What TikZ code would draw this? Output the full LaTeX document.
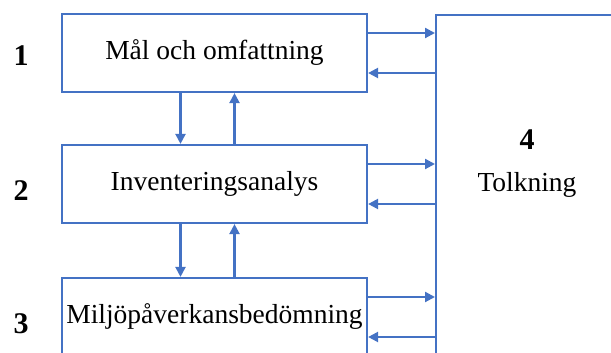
\documentclass[tikz,border=0pt]{standalone}
\usepackage{fontspec}
\setmainfont{Liberation Serif}
\usetikzlibrary{arrows.meta, positioning}
\definecolor{lcablue}{HTML}{4472C4}

\begin{document}
\begin{tikzpicture}[x=1pt, y=1pt,
      phase/.style={rectangle, draw=lcablue, line width=2.2pt, fill=white, minimum width=305pt, minimum height=78pt, inner sep=0pt, font=\fontsize{27.5}{30}\selectfont},
      num/.style={font=\fontsize{30}{32}\selectfont\bfseries},
      arrow/.style={-{Triangle[length=10pt, width=10pt]}, line width=2.2pt, lcablue},
    ]
    \useasboundingbox (0,0) rectangle (611,353);
    \clip (0,0) rectangle (611,353);

    \node[phase] (mal) at (214.5,300) {Mål och omfattning};
    \node[phase] (inv) at (214.5,169) {Inventeringsanalys};
    \node[phase] (milj) at (214.5,36) {Miljöpåverkansbedömning};
    \node[rectangle, draw=lcablue, line width=2.2pt, minimum width=220pt, minimum height=380pt, anchor=north west] (tolk) at (435,339) {};

    \node[num] (n1) at (21,297) {1};
    \node[num] (n2) at (21,162) {2};
    \node[num] (n3) at (21,29) {3};
    \node[num] (n4) at (527,213) {4};
    \node[font=\fontsize{27.5}{30}\selectfont] (tolktext) at (527,168) {Tolkning};

    % phases to interpretation and back
    \foreach \p in {mal, inv, milj} {
      \draw[arrow] ([yshift=20pt]\p.east) -- ([yshift=20pt]\p.east -| tolk.west);
      \draw[arrow] ([yshift=-20pt]\p.east -| tolk.west) -- ([yshift=-20pt]\p.east);
    }

    % between the phases
    \draw[arrow] ([xshift=-34pt]mal.south) -- ([xshift=-34pt]inv.north);
    \draw[arrow] ([xshift=20pt]inv.north) -- ([xshift=20pt]mal.south);
    \draw[arrow] ([xshift=-34pt]inv.south) -- ([xshift=-34pt]milj.north);
    \draw[arrow] ([xshift=20pt]milj.north) -- ([xshift=20pt]inv.south);
  \end{tikzpicture}
\end{document}
